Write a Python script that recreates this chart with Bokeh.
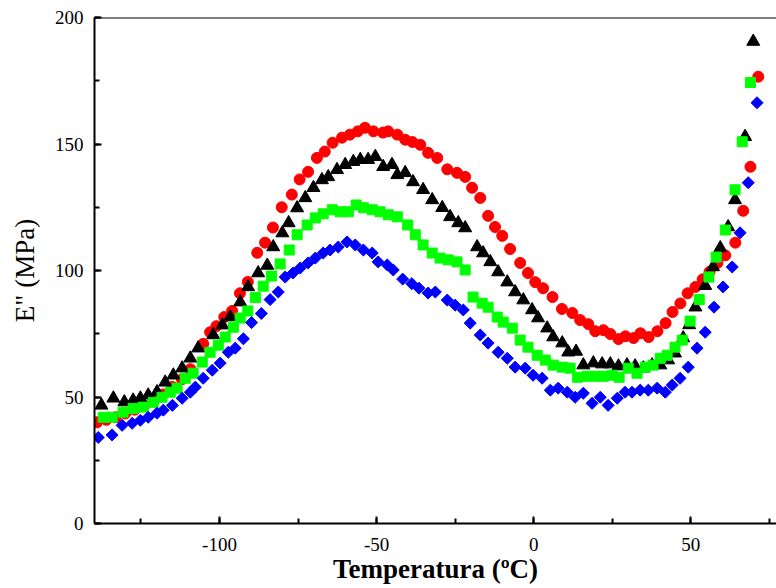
import numpy as np
from bokeh.plotting import figure
from bokeh.models import Span, SingleIntervalTicker, Range1d, CustomJSTickFormatter
from bokeh.embed import file_html
from bokeh.resources import INLINE

# ---- data ----
red_x = [-139, -136, -133, -130, -127, -124, -121, -118, -115, -112, -109.3, -105.2, -103, -101, -98.5, -96,
         -93.5, -91, -88, -85.5, -83, -80.2, -77, -74.5, -71.8, -69, -66.5, -64, -61, -58.5, -56, -53.7,
         -51, -48, -46.3, -43.4, -40.9, -38.6, -36.1, -33.6, -30.7, -27.5, -24.4, -21.8, -19.6, -17,
         -14.5, -12.3, -10, -7.5, -4.3, -1.8, 0.5, 3, 6, 9, 12.3, 14.8, 17.4, 19.6, 22.2, 24.4, 27, 29.2,
         31.8, 34, 36.6, 39.4, 42, 44.2, 46.7, 49, 51.5, 53.8, 56, 58.5, 61, 64.2, 66.7, 69, 71.5]
red_y = [40, 41, 42, 43.5, 45, 46.5, 48.5, 51, 54, 57, 61, 71, 75.6, 78, 81.6, 84,
         91, 95.5, 107, 111, 117, 125, 130, 136, 139, 144.5, 147, 150.5, 152.5, 153.7, 155, 156.4,
         155, 154.5, 155, 153.7, 151.7, 150.8, 149.7, 146.5, 144.5, 140, 138.6, 137, 132.7, 128.7,
         121.6, 117.2, 113.7, 108.5, 103, 99, 95.4, 93, 89.5, 84.8, 83.2, 80.4, 78.8, 76, 76.4, 74.9, 72.9, 74,
         73.3, 75.2, 73.7, 76, 79.2, 83.6, 87, 91, 93.5, 96.5, 99.5, 103, 106, 111, 123.6, 141, 176.6]

black_x = [-137.6, -133.8, -130.3, -127.5, -125.2, -122.7, -119.9, -117.3, -114.7, -111.9, -109.3, -106.8,
           -102, -99.1, -96.6, -93.4, -90.9, -87.7, -84.8, -82.9, -80, -78, -75.3, -72.7, -70.1, -67.4,
           -65.4, -62.6, -60, -57.4, -55.2, -52.7, -50.4, -47.9, -45.1, -43.4, -40.9, -38.4, -35.2, -32.3,
           -29.1, -26.6, -24, -21.8, -18, -16.1, -13.8, -11.3, -8.4, -5.9, -3.3, -0.5, 1.4, 4.3, 6.2, 9.1,
           11, 13.5, 15.8, 19, 21.8, 24.4, 27, 29.7, 32.3, 34.9, 37.7, 40.3, 42.8, 45, 47.6, 49.5, 51.5,
           54.6, 57.1, 59.4, 61.9, 64.1, 67.3, 69.9]
black_y = [46.7, 49.5, 48, 48.7, 49.5, 50.7, 52, 55.8, 58.6, 61.4, 65.3, 69.3,
           74.5, 78.4, 81.6, 87.5, 93.5, 99, 102, 109.3, 114.8, 118.8, 124.7, 128.7, 132.7, 135.8,
           137, 139.8, 141.8, 143, 143.8, 143.8, 145, 141, 141.8, 137.8, 138.6, 135, 131.9, 127.9,
           124.8, 121.2, 118.8, 116.8, 109.3, 106.9, 103.4, 99.4, 95.4, 91.5, 88.3, 84.4, 81.2, 77.2, 73.7, 71.3,
           67.7, 68, 62.6, 63.4, 63, 63, 62.2, 62.6, 62.2, 61.4, 62.6, 62.6, 64.6, 67.3, 73.3, 78.5, 85.5,
           94, 101.4, 108.9, 117.2, 127.9, 152.9, 190.5]

green_x = [-137, -134.2, -130.7, -127.5, -124.3, -121.1, -118.3, -115.7, -113.5, -110.9, -108.4, -105.5,
           -103, -100.4, -98.2, -95.6, -93.4, -91, -88.6, -86.1, -83.5, -80.7, -77.8, -75.3, -72.1, -69.5,
           -67, -64.1, -61.6, -59, -56.5, -54.2, -51.4, -48.9, -46.3, -43.4, -40.1, -37.7, -35.2, -32.3,
           -29.8, -27.2, -24.4, -21.8, -19.3, -16.4, -14.5, -11.6, -9.7, -6.8, -4.3, -1.8, 1.1, 3.7, 6.2,
           9.1, 11.6, 14, 17, 19.6, 22.2, 25, 27.2, 30.1, 32.9, 35.5, 38, 40.3, 42.5, 45, 47.3, 49.8, 52.7,
           55.8, 58.1, 61, 64.1, 66.4, 69]
green_y = [42, 42, 44, 45.5, 46, 47.9, 49.9, 51.9, 53.5, 57.4, 59.4, 63.8,
           67.7, 70.5, 73.7, 77.6, 81.2, 84, 89.3, 93.8, 97.8, 102.6, 108.1, 114.1, 118, 120.8,
           122.4, 124, 123.2, 123.2, 125.9, 124.8, 124, 123.2, 122, 121.2, 118, 114.1, 110.1, 106.9,
           104.9, 104.2, 103.4, 100.2, 89.5, 87.1, 85.5, 81.6, 79.6, 77.2, 72.5, 69.7, 66.5, 64.6, 62.6,
           61.8, 61.4, 57.8, 58.2, 58.2, 58.2, 58.6, 57.8, 61.4, 59.4, 61.8, 62.6, 65.3, 66.5, 69.7, 72.5, 80, 88.5,
           97.4, 105.3, 116, 131.9, 150.9, 174.3]

blue_x = [-138.6, -134.2, -131, -127.8, -125.2, -122.7, -119.9, -117.9, -115, -111.9, -109.3, -107.7,
          -105.2, -102.3, -99.8, -97.2, -95, -92.4, -89.8, -86.7, -83.9, -81.3, -79.1, -76.6, -74.3, -71.8,
          -69.5, -67, -64.8, -62.2, -59.4, -56.8, -54.2, -51.4, -49.5, -46.6, -44.7, -41.7, -38.8, -36.5,
          -33.6, -31.3, -27.5, -25, -22.4, -20.2, -17, -14.5, -11.3, -8.4, -5.9, -2.7, -0.2, 2.7, 5.3, 7.8,
          10.7, 13.2, 15.8, 18.6, 21.2, 23.7, 26.6, 29.1, 31.3, 33.9, 36.5, 39.3, 41.9, 44.1, 46.6, 49.2,
          52, 54.6, 57.4, 60.3, 63.2, 65.7, 68.3, 71.1]
blue_y = [34, 35, 38.8, 39.6, 40.8, 42, 43.6, 44.8, 46.7, 49.5, 51.9, 53.9,
          57.4, 60.6, 63.4, 67.7, 69.3, 73, 79.4, 83, 88.5, 91.5, 97.4, 99, 101, 103,
          104.9, 106.9, 108.1, 109.3, 111.3, 110.1, 108.1, 106.9, 103.4, 102.2, 100.2, 96.6, 94.8, 93,
          91.1, 91.5, 88.3, 86.3, 84.4, 79.2, 74.5, 71.3, 67.7, 65.3, 61.8, 61.4, 58.6, 57.4, 52.7, 53.5,
          51.9, 49.9, 51.5, 47.5, 49.9, 46.7, 49.5, 51.9, 51.9, 52.7, 52.7, 53.5, 51.9, 54.7, 57.4, 61.8,
          69.3, 75.6, 85.5, 93.5, 101.4, 114.9, 134.7, 166.3]

x_ticks_step = 50
y_ticks_step = 50

FONT = "Liberation Serif"

p = figure(width=776, height=586, output_backend="svg", toolbar_location=None,
           x_range=Range1d(-139.8, 77.3), y_range=Range1d(0, 200),
           min_border_left=94, min_border_right=0, min_border_top=17, min_border_bottom=63)
p.outline_line_color = None
p.grid.visible = False
p.background_fill_color = "white"

p.scatter(red_x, red_y, marker="circle", size=11, fill_color="#FF0000", line_color="#FF0000")
p.scatter(black_x, black_y, marker="triangle", size=13, fill_color="#000000", line_color="#000000")
p.scatter(green_x, green_y, marker="square", size=10, fill_color="#00FF00", line_color="#00FF00")
p.scatter(blue_x, blue_y, marker="square", size=8.5, angle=np.pi / 4,
          fill_color="#0000FF", line_color="#0000FF")

p.add_layout(Span(location=200, dimension="width", line_color="black", line_width=2))

p.xaxis.ticker = SingleIntervalTicker(interval=x_ticks_step, num_minor_ticks=2)
p.yaxis.ticker = SingleIntervalTicker(interval=y_ticks_step, num_minor_ticks=2)

fmt_code = "return tick.toFixed(0);"
for ax in (p.xaxis[0], p.yaxis[0]):
    ax.formatter = CustomJSTickFormatter(code=fmt_code)
    ax.axis_line_width = 2
    ax.axis_line_color = "black"
    ax.major_tick_line_width = 2
    ax.minor_tick_line_width = 2
    ax.major_tick_in = 7
    ax.major_tick_out = 0
    ax.minor_tick_in = 5
    ax.minor_tick_out = 0
    ax.major_label_text_font = FONT
    ax.major_label_text_font_size = "19px"
    ax.major_label_text_color = "black"
    ax.axis_label_text_font = FONT
    ax.axis_label_text_color = "black"

p.xaxis.major_label_standoff = 14
p.yaxis.major_label_standoff = 11
p.xaxis.axis_label = "Temperatura (ºC)"
p.xaxis.axis_label_text_font_size = "27px"
p.xaxis.axis_label_text_font_style = "bold"
p.xaxis.axis_label_standoff = 0
p.yaxis.axis_label = 'E" (MPa)'
p.yaxis.axis_label_text_font_size = "27px"
p.yaxis.axis_label_text_font_style = "normal"
p.yaxis.axis_label_standoff = 12

open("out.html", "w").write(file_html(p, INLINE))
